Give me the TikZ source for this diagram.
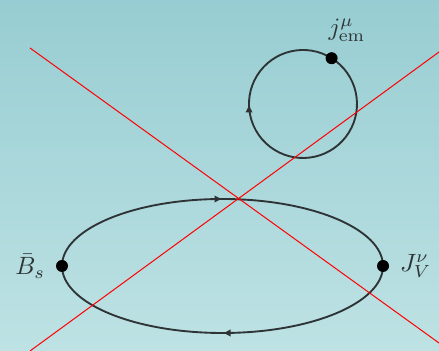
\documentclass[tikz,border=0pt]{standalone}
\usepackage{amsmath}
\usetikzlibrary{arrows.meta,positioning,decorations.markings,backgrounds}
\definecolor{seatop}{HTML}{97CDD2}
\definecolor{seabot}{HTML}{BEE2E4}
\definecolor{ink}{HTML}{2E3436}
\tikzset{
  vtx/.style={circle, fill=black, inner sep=0pt, minimum size=4.8pt},
  lbl/.style={inner sep=1pt, text=ink},
  prop/.style={draw=ink, line width=0.75pt},
  midarr/.style={postaction={decorate},
    decoration={markings, mark=at position #1 with {\arrow{Latex[length=3.2pt,width=3pt]}}}},
  cross/.style={draw=red, line width=0.4pt},
}

\begin{document}
\begin{tikzpicture}[x=0.4pt, y=0.4pt]
  \useasboundingbox (0,0) rectangle (439,351);
  % vertices and labels
  \node[vtx] (bs) at (62,85) {};
  \node[vtx] (jv) at (383,85) {};
  \node[vtx] (em) at (331.6,292.8) {};
  \node[lbl, left=3pt of bs] (bslab) {$\bar{B}_s$};
  \node[lbl, right=3pt of jv] (jvlab) {$J^\nu_V$};
  \node[lbl] (emlab) at (347,321) {$j^\mu_{\mathrm{em}}$};
  % loops under the vertices
  \begin{pgfonlayer}{background}
    \shade[top color=seatop, bottom color=seabot] (0,0) rectangle (439,351);
    \draw[prop, midarr=0.5] (bs.center) arc[start angle=180, end angle=0, x radius=160.5, y radius=67];
    \draw[prop, midarr=0.5] (jv.center) arc[start angle=0, end angle=-180, x radius=160.5, y radius=67];
    \draw[prop, midarr=0.66] (em.center) arc[start angle=58, end angle=-302, radius=54];
  \end{pgfonlayer}
  % crossed out
  \coordinate (xa) at (30,303);
  \coordinate (xb) at (439,8);
  \coordinate (xc) at (30,0);
  \coordinate (xd) at (439,299);
  \draw[cross] (xa) -- (xb);
  \draw[cross] (xc) -- (xd);
\end{tikzpicture}
\end{document}
